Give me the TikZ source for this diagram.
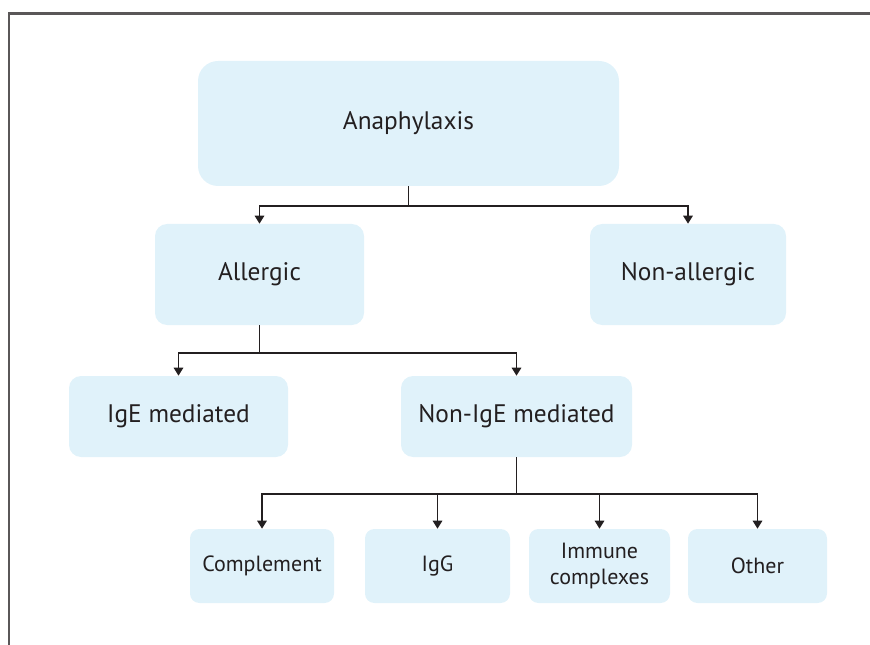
\documentclass[tikz,border=0pt]{standalone}
\usepackage{fontspec}
\setmainfont{PT Sans}
\usetikzlibrary{arrows.meta}
\definecolor{boxblue}{RGB}{224,242,250}
\definecolor{inkgray}{RGB}{35,31,32}

\begin{document}
\begin{tikzpicture}[x=0.75pt,y=-0.75pt,
    box/.style={fill=boxblue,text=inkgray,align=center,inner sep=0pt,rounded corners=9pt},
    bigbox/.style={box,font=\fontsize{19}{23}\selectfont,minimum height=75.75pt},
    midbox/.style={box,font=\fontsize{19}{23}\selectfont,minimum height=60.75pt},
    smallbox/.style={box,font=\fontsize{16.5}{20}\selectfont,minimum height=55.5pt,rounded corners=7pt},
    link/.style={draw=inkgray,line width=1.4pt,-{Triangle[width=7pt,length=6pt]}}]

\def\FRAMECOLOR{inkgray!75}
	\useasboundingbox (0,0) rectangle (870,645);
	\draw[\FRAMECOLOR,line width=1.6pt] (9,645) -- (9,13.5) -- (870,13.5);

	% top level
	\node[bigbox,minimum width=315.75pt,minimum height=93.75pt,rounded corners=15pt] (anaphylaxis) at (408.5,123.5) {Anaphylaxis};
	\node[bigbox,minimum width=156.75pt] (allergic) at (259.5,274.5) {Allergic};
	\node[bigbox,minimum width=147pt] (nonallergic) at (688,274.5) {Non-allergic};

	% second level
	\node[midbox,minimum width=164.25pt] (ige) at (178.5,416.5) {IgE mediated};
	\node[midbox,minimum width=173.25pt] (nonige) at (516.5,416.5) {Non-IgE mediated};

	% third level
	\node[smallbox,minimum width=108pt] (complement) at (262,566) {Complement};
	\node[smallbox,minimum width=108.75pt] (igg) at (437.5,566) {IgG};
	\node[smallbox,minimum width=105.75pt] (immune) at (599.5,566) {Immune\\complexes};
	\node[smallbox,minimum width=104.25pt] (other) at (757.5,566) {Other};

	\draw[link] (anaphylaxis.south) -- ++(0,20) -| (allergic.north);
	\draw[link] (anaphylaxis.south) -- ++(0,20) -| (nonallergic.north);

	\draw[link] (allergic.south) -- ++(0,28) -| (ige.north);
	\draw[link] (allergic.south) -- ++(0,28) -| (nonige.north);

	\draw[link] (nonige.south) -- ++(0,37) -| (complement.north);
	\draw[link] (nonige.south) -- ++(0,37) -| (igg.north);
	\draw[link] (nonige.south) -- ++(0,37) -| (immune.north);
	\draw[link] (nonige.south) -- ++(0,37) -| (other.north);

\end{tikzpicture}
\end{document}
